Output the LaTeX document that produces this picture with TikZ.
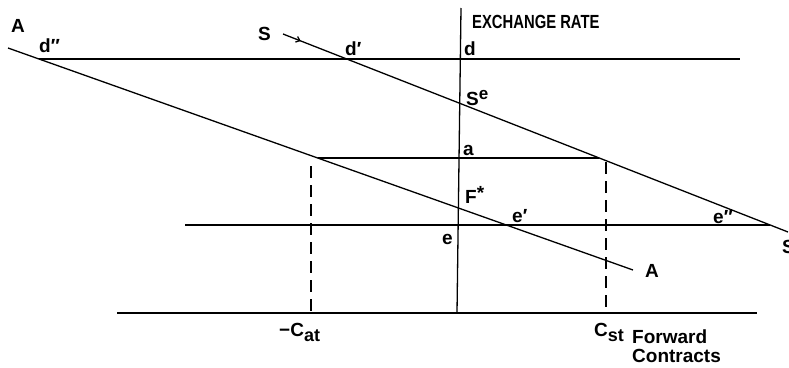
\documentclass[tikz,border=0pt]{standalone}
\usepackage{fontspec}
\setmainfont{Liberation Sans}
\usetikzlibrary{arrows.meta,decorations.markings}
\begin{document}
\begin{tikzpicture}[x=1pt,y=-1pt,
  ln/.style={line width=1.3pt},
  dsh/.style={line width=1.3pt, dash pattern=on 12pt off 7pt},
  lbl/.style={font=\fontsize{19}{20}\selectfont\bfseries, inner sep=0pt, anchor=base west},
  lbw/.style={font=\fontsize{19}{18.5}\selectfont\bfseries, inner sep=0pt, anchor=north west, align=left},
  midarrow/.style={postaction={decorate},decoration={markings,
     mark=at position 19pt with {\arrow{Straight Barb[length=3.5pt,width=6pt]}}}}]
\useasboundingbox (0,0) rectangle (789,367);
% axes
\coordinate (Ytop) at (461,8);
\coordinate (Ybot) at (457,313);
\coordinate (Xl) at (117,313);
\coordinate (Xr) at (757,313);
% A schedule
\coordinate (A1) at (8,48);
\coordinate (A2) at (633,270);
% S schedule
\coordinate (S1) at (283,34);
\coordinate (S2) at (788,232);
% horizontal lines
\coordinate (dpp) at (39,59);
\coordinate (dR) at (740,59);
\coordinate (aL) at (317.7,158);
\coordinate (aR) at (599.2,158);
\coordinate (eL) at (185,225);
\coordinate (epp) at (770.1,225);
% dashed verticals
\coordinate (cat1) at (311,166);
\coordinate (cat2) at (311,313);
\coordinate (cst1) at (606,162);
\coordinate (cst2) at (606,313);

\draw[ln] (Ytop) -- (Ybot);
\draw[ln] (Xl) -- (Xr);
\draw[ln] (A1) -- (A2);
\draw[ln,midarrow] (S1) -- (S2);
\draw[ln] (dpp) -- (dR);
\draw[ln] (aL) -- (aR);
\draw[ln] (eL) -- (epp);
\draw[dsh] (cat1) -- (cat2);
\draw[dsh] (cst1) -- (cst2);

% labels
\node[lbl] (lA1) at (11,32) {A};
\node[lbl] (ldpp) at (39,52) {d″};
\node[lbl] (lS1) at (258,40) {S};
\node[lbl] (ldp) at (345,55) {d′};
\node[lbl] (ld) at (464,55) {d};
\node[lbl] (lex) at (472,28) {\scalebox{0.78}[1]{EXCHANGE RATE}};
\node[lbl] (lse) at (466,105) {S\raisebox{0.55ex}{\fontsize{17}{17}\selectfont e}};
\node[lbl] (la) at (463,155) {a};
\node[lbl] (lF) at (465,203) {F\raisebox{0.3ex}{*}};
\node[lbl] (lep) at (512,222) {e′};
\node[lbl] (le) at (442,244) {e};
\node[lbl] (lepp) at (713,223) {e″};
\node[lbl] (lS2) at (782,253) {S};
\node[lbl] (lA2) at (645,277) {A};
\node[lbl] (lcat) at (279,336) {−C\raisebox{-0.5ex}{\fontsize{18}{18}\selectfont at}};
\node[lbl] (lcst) at (594,336) {C\raisebox{-0.5ex}{\fontsize{18}{18}\selectfont st}};
\node[lbw] (lfc) at (632,330) {Forward\\Contracts};
\end{tikzpicture}
\end{document}
